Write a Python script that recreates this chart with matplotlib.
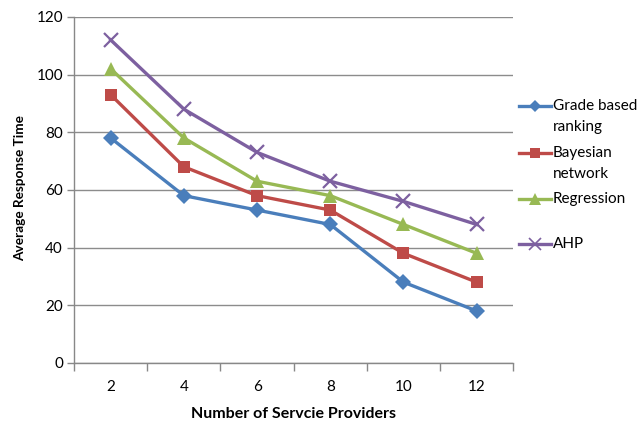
import matplotlib
matplotlib.use("Agg")
import matplotlib.pyplot as plt
from matplotlib.lines import Line2D
import numpy as np

plt.rcParams['font.family'] = ['Lato', 'DejaVu Sans']

providers = ["2", "4", "6", "8", "10", "12"]
grade_based = [78, 58, 53, 48, 28, 18]
bayesian = [93, 68, 58, 53, 38, 28]
regression = [102, 78, 63, 58, 48, 38]
ahp = [112, 88, 73, 63, 56, 48]

series = [
    ("Grade based\nranking", grade_based, "#4A7EBB", "D", 8),
    ("Bayesian\nnetwork", bayesian, "#BE4B48", "s", 9),
    ("Regression", regression, "#98B954", "^", 10),
    ("AHP", ahp, "#7D60A0", "x", 10),
]

W, H = 644, 421
fig = plt.figure(figsize=(W / 100, H / 100), dpi=100)
ax = fig.add_axes([0.115, 0.138, 0.682, 0.822])

x = np.arange(len(providers))
for label, vals, color, marker, ms in series:
    kw = dict(markeredgewidth=1.6) if marker == "x" else dict(markeredgewidth=0)
    ax.plot(x, vals, color=color, linewidth=2.4, marker=marker,
            markersize=ms, markerfacecolor=color, markeredgecolor=color,
            label=label, zorder=3, **kw)

ax.set_xlim(-0.5, len(providers) - 0.5)
ax.set_ylim(0, 120)
ax.set_yticks(range(0, 121, 20))
ax.set_xticks(x)
ax.set_xticklabels(providers)
ax.set_xticks(np.arange(-0.5, len(providers), 1.0), minor=True)
ax.tick_params(axis='x', which='major', length=0, pad=12, labelsize=11)
ax.tick_params(axis='x', which='minor', length=6, color="#888888", width=1)
ax.tick_params(axis='y', length=5, color="#888888", width=1, labelsize=11, pad=3)

ax.grid(axis='y', color="#8C8C8C", linewidth=1)
ax.set_axisbelow(True)
for side in ("top", "right"):
    ax.spines[side].set_visible(False)
for side in ("left", "bottom"):
    ax.spines[side].set_color("#888888")
    ax.spines[side].set_linewidth(1)

ax.set_xlabel("Number of Servcie Providers", fontsize=11.5, fontweight="bold", labelpad=10)
fig.text(20 / W, 1 - 188 / H, "Average Response Time", fontsize=9.8,
         fontweight="bold", rotation=90, ha="center", va="center")

# legend drawn at fixed figure positions
legend_rows = [106, 153, 199, 244]
for (label, vals, color, marker, ms), yp in zip(series, legend_rows):
    yf = 1 - yp / H
    kw = dict(markeredgewidth=1.2) if marker == "x" else dict(markeredgewidth=0)
    fig.add_artist(Line2D([519 / W, 551 / W], [yf, yf], color=color, linewidth=2.4))
    fig.add_artist(Line2D([535 / W], [yf], color=color, marker=marker,
                          markersize=ms - 2, markerfacecolor=color,
                          markeredgecolor=color, linestyle="none", **kw))
    for i, line in enumerate(label.split("\n")):
        fig.text(553 / W, 1 - (yp + 21 * i) / H, line, fontsize=11,
                 va="center", ha="left")

fig.savefig("out.png", dpi=100)
